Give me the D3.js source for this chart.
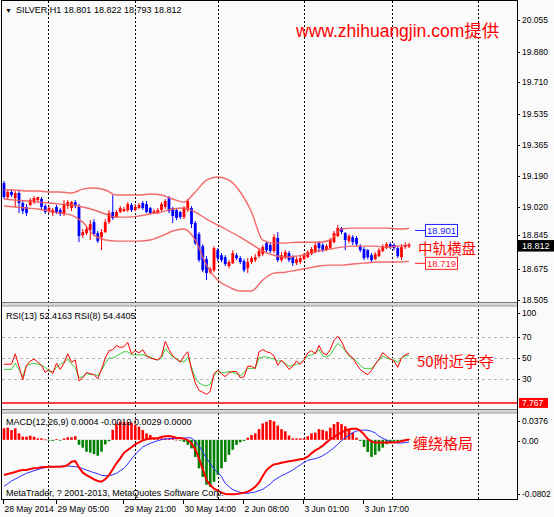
<!DOCTYPE html>
<html><head><meta charset="utf-8">
<script src="https://cdn.jsdelivr.net/npm/d3@7"></script>
<style>
html,body{margin:0;padding:0;background:#fafafa;}
svg{display:block;}
text{font-family:"Liberation Sans",Arial,sans-serif;}
</style></head><body>
<svg id="c" width="554" height="517"></svg>
<script>
// ---------- DATA ----------
const symbolHeader = "SILVER,H1  18.801 18.822 18.793 18.812";
const timeLabels = ["28 May 2014","29 May 05:00","29 May 21:00","30 May 14:00","2 Jun 08:00","3 Jun 01:00","3 Jun 17:00"];
const timeLabelBars = [0,14,32,48,64,80,96];
const priceTicks = [20.055,19.880,19.710,19.535,19.365,19.190,19.020,18.845,18.675,18.505];
const rsiTicks = [100,70,50,30];
const rsiLevels = [70,50,30];
const macdTicks = [0.0376,0.00,-0.0802];

const open = [
19.152,19.075,19.103,19.069,19.097,19.042,19.020,19.031,19.047,19.058,
19.064,19.025,18.997,18.986,19.020,19.003,18.981,19.025,19.014,19.047,
19.020,18.864,18.875,18.892,18.936,18.875,18.853,18.881,18.936,18.992,
18.964,18.992,18.997,19.003,19.031,19.003,19.014,19.042,19.036,19.014,
18.986,18.986,19.003,19.020,19.069,19.014,19.003,18.992,18.964,19.003,
19.014,18.931,18.870,18.803,18.731,18.659,18.670,18.781,18.753,18.742,
18.693,18.709,18.753,18.737,18.720,18.681,18.715,18.726,18.748,18.759,
18.820,18.809,18.776,18.848,18.726,18.737,18.765,18.742,18.709,18.715,
18.731,18.742,18.759,18.770,18.820,18.809,18.781,18.792,18.825,18.859,
18.903,18.875,18.831,18.853,18.848,18.803,18.787,18.781,18.753,18.731,
18.748,18.776,18.792,18.814,18.809,18.792,18.742,18.798,18.801];
const high = [
19.164,19.114,19.119,19.108,19.114,19.058,19.036,19.069,19.080,19.075,
19.075,19.036,19.025,19.014,19.031,19.014,19.058,19.058,19.053,19.058,
19.036,18.898,18.909,18.948,18.953,18.887,18.898,18.953,19.003,19.086,
19.003,19.025,19.020,19.047,19.042,19.036,19.042,19.053,19.053,19.020,
19.009,19.014,19.047,19.064,19.080,19.020,19.009,18.997,19.025,19.064,
19.025,18.942,18.881,18.814,18.748,18.687,18.803,18.792,18.765,18.753,
18.726,18.781,18.765,18.748,18.731,18.737,18.748,18.759,18.792,18.809,
18.831,18.820,18.870,18.881,18.770,18.781,18.776,18.753,18.742,18.748,
18.765,18.781,18.798,18.825,18.831,18.820,18.814,18.848,18.887,18.920,
18.909,18.881,18.870,18.864,18.859,18.814,18.798,18.787,18.765,18.770,
18.792,18.814,18.825,18.825,18.820,18.803,18.814,18.825,18.822];
const low = [
19.064,19.058,19.075,19.020,18.986,18.981,18.970,19.025,19.036,19.047,
19.003,18.981,18.986,18.970,18.981,18.970,18.970,19.009,18.997,19.014,
18.825,18.848,18.864,18.837,18.859,18.820,18.781,18.875,18.925,18.948,
18.959,18.986,18.992,18.992,18.992,18.997,19.009,19.003,18.986,18.981,
18.981,18.981,18.997,19.009,18.986,18.931,18.948,18.953,18.953,18.992,
18.903,18.809,18.715,18.659,18.615,18.648,18.659,18.720,18.715,18.693,
18.681,18.704,18.726,18.704,18.659,18.654,18.704,18.715,18.737,18.748,
18.770,18.765,18.765,18.715,18.715,18.731,18.715,18.693,18.698,18.704,
18.726,18.737,18.753,18.765,18.770,18.770,18.776,18.787,18.820,18.853,
18.870,18.781,18.820,18.809,18.803,18.770,18.726,18.731,18.715,18.726,
18.742,18.770,18.787,18.787,18.781,18.737,18.726,18.787,18.793];
const close = [
19.075,19.103,19.086,19.097,19.042,18.997,18.986,19.058,19.069,19.075,
19.020,18.992,19.014,19.003,18.992,18.981,19.036,19.047,19.047,19.025,
18.859,18.881,18.898,18.925,18.870,18.831,18.881,18.936,18.986,18.959,
18.992,19.014,19.009,19.036,19.003,19.020,19.031,19.014,18.992,18.986,
18.997,19.003,19.036,19.053,18.997,18.970,18.959,18.964,19.014,19.053,
18.925,18.820,18.726,18.670,18.654,18.676,18.792,18.737,18.726,18.704,
18.715,18.765,18.737,18.715,18.670,18.715,18.737,18.742,18.776,18.798,
18.781,18.776,18.853,18.726,18.753,18.770,18.726,18.709,18.731,18.737,
18.753,18.770,18.787,18.809,18.792,18.781,18.803,18.837,18.875,18.903,
18.881,18.837,18.859,18.825,18.814,18.781,18.737,18.742,18.726,18.759,
18.781,18.803,18.814,18.798,18.792,18.748,18.798,18.809,18.812];

// Bollinger bands, one value every 3 bars
const bbStep = 3;
const bbUpper = [19.114,19.114,19.108,19.108,19.103,19.103,19.097,19.119,19.125,19.114,19.086,19.086,19.086,19.092,19.086,19.064,19.047,19.103,19.169,19.186,19.169,19.103,18.992,18.837,18.820,18.820,18.825,18.825,18.825,18.837,18.898,18.903,18.903,18.903,18.903,18.898,18.901];
const bbMiddle = [19.064,19.058,19.053,19.047,19.042,19.036,19.031,19.020,19.003,18.981,18.964,18.964,18.970,18.981,18.992,19.009,19.014,18.992,18.953,18.920,18.887,18.853,18.814,18.776,18.753,18.742,18.748,18.759,18.776,18.787,18.798,18.803,18.803,18.803,18.798,18.803,18.810];
const bbLower = [19.025,19.020,19.014,19.009,18.997,18.986,18.975,18.936,18.864,18.837,18.831,18.831,18.831,18.837,18.859,18.887,18.898,18.837,18.698,18.615,18.577,18.555,18.555,18.615,18.654,18.659,18.670,18.681,18.693,18.698,18.698,18.704,18.709,18.715,18.715,18.715,18.719];

const rsi8 = [44,44,44,54,42,29,43,47,49,46, 43,36,39,35,45,39,45,54,46,48, 28,31,36,35,34,30,39,50,57,58, 62,60,61,65,54,57,55,58,52,50, 49,48,52,66,58,52,49,46,52,56, 39,26,19,17,15,18,35,38,35,32, 36,37,37,31,32,42,42,40,56,58, 56,55,52,43,48,44,39,42,47,44, 48,55,57,54,62,55,53,58,67,71, 66,58,53,50,44,39,36,34,38,44, 49,55,52,49,47,41,50,53,54.44];
const rsi13 = [39,39,39,45,39,32,43,44,45,44, 43,41,37,37,41,44,46,49,44,41, 31,32,35,34,34,33,38,45,50,50, 52,54,56,56,53,53,53,53,52,51, 49,48,50,59,55,51,49,47,46,51, 41,31,26,24,23,25,33,38,36,36, 37,36,35,33,36,40,40,40,50,51, 51,50,49,47,47,45,42,43,44,45, 48,52,53,55,58,52,51,53,59,64, 61,57,52,50,47,43,40,40,40,44, 48,52,50,49,48,46,50,52,52.42];
const rsiMarkLevel = 7.767;

const macdHist = [
0.0161,0.0170,0.0137,0.0161,0.0090,0.0044,0.0044,0.0058,0.0044,0.0021,
0.0021,0.0005,-0.0010,-0.0015,0.0010,-0.0010,0.0020,0.0035,0.0035,0.0050,
-0.0070,-0.0110,-0.0167,-0.0180,-0.0200,-0.0223,-0.0167,-0.0064,-0.0020,0.0140,
0.0230,0.0254,0.0254,0.0245,0.0240,0.0208,0.0184,0.0137,0.0090,0.0067,
0.0021,0.0007,0.0021,0.0021,0.0021,0.0021,0.0003,-0.0010,-0.0030,-0.0070,
-0.0120,-0.0240,-0.0400,-0.0520,-0.0630,-0.0660,-0.0590,-0.0490,-0.0400,-0.0310,
-0.0210,-0.0140,-0.0070,-0.0035,-0.0015,0.0030,0.0067,0.0090,0.0150,0.0230,
0.0254,0.0278,0.0260,0.0200,0.0150,0.0120,0.0060,0.0020,0.0020,0.0020,
0.0020,0.0050,0.0090,0.0100,0.0150,0.0140,0.0120,0.0170,0.0220,0.0250,
0.0220,0.0190,0.0150,0.0100,0.0030,-0.0015,-0.0100,-0.0170,-0.0240,-0.0210,
-0.0160,-0.0110,-0.0060,-0.0035,-0.0025,-0.0025,-0.0015,0.0005,0.0008];
const macdMain = [
-0.0494,-0.0480,-0.0466,-0.0452,-0.0433,-0.0424,-0.0424,-0.0410,-0.0400,-0.0396,
-0.0386,-0.0381,-0.0377,-0.0377,-0.0377,-0.0377,-0.0372,-0.0353,-0.0307,-0.0297,
-0.0386,-0.0461,-0.0494,-0.0522,-0.0554,-0.0578,-0.0587,-0.0554,-0.0494,-0.0414,
-0.0330,-0.0260,-0.0180,-0.0143,-0.0105,-0.0064,-0.0036,-0.0007,0.0007,0.0021,
0.0021,0.0021,0.0039,0.0049,0.0053,0.0044,0.0030,0.0025,0.0016,-0.0003,
-0.0050,-0.0134,-0.0260,-0.0410,-0.0564,-0.0634,-0.0685,-0.0713,-0.0741,-0.0760,
-0.0765,-0.0765,-0.0760,-0.0751,-0.0741,-0.0727,-0.0699,-0.0657,-0.0601,-0.0508,
-0.0424,-0.0377,-0.0344,-0.0335,-0.0321,-0.0311,-0.0302,-0.0293,-0.0283,-0.0274,
-0.0265,-0.0236,-0.0190,-0.0148,-0.0120,-0.0082,-0.0036,0.0007,0.0039,0.0072,
0.0105,0.0128,0.0147,0.0156,0.0156,0.0128,0.0077,0.0011,-0.0026,-0.0036,
-0.0036,-0.0036,-0.0036,-0.0036,-0.0036,-0.0031,-0.0021,-0.0007,0.0004];
const macdSignal = [
-0.0653,-0.0615,-0.0578,-0.0550,-0.0522,-0.0494,-0.0470,-0.0452,-0.0433,-0.0419,
-0.0400,-0.0391,-0.0381,-0.0377,-0.0372,-0.0372,-0.0367,-0.0367,-0.0372,-0.0377,
-0.0386,-0.0405,-0.0424,-0.0442,-0.0461,-0.0475,-0.0498,-0.0503,-0.0503,-0.0489,
-0.0470,-0.0433,-0.0400,-0.0339,-0.0269,-0.0204,-0.0152,-0.0101,-0.0073,-0.0050,
-0.0031,-0.0012,0.0002,0.0011,0.0016,0.0021,0.0021,0.0021,0.0021,0.0030,
0.0025,-0.0026,-0.0082,-0.0166,-0.0260,-0.0335,-0.0410,-0.0456,-0.0517,-0.0611,
-0.0657,-0.0699,-0.0718,-0.0737,-0.0746,-0.0751,-0.0741,-0.0732,-0.0713,-0.0695,
-0.0657,-0.0620,-0.0568,-0.0536,-0.0503,-0.0480,-0.0452,-0.0424,-0.0386,-0.0353,
-0.0316,-0.0288,-0.0274,-0.0265,-0.0246,-0.0223,-0.0190,-0.0152,-0.0110,-0.0064,
-0.0012,0.0030,0.0067,0.0100,0.0123,0.0133,0.0137,0.0133,0.0119,0.0096,
0.0049,0.0021,-0.0003,-0.0026,-0.0036,-0.0045,-0.0045,-0.0040,-0.0030];

const bandMarks = [{v:18.901,color:"#2020ff"},{v:18.719,color:"#ff2020"}];
const lastPrice = 18.812;

// ---------- LAYOUT ----------
const W=554, H=517, L=2, R=517;
const P = {main:[2,302.5], rsi:[306,410], macd:[413,499.5]};
const N = close.length;
const RED="#ff0000", BLUE="#0000ff";
const x = d3.scaleLinear().domain([0,108]).range([4,409]);
const yM = d3.scaleLinear().domain([18.505,20.055]).range([300,20]);
const yR = d3.scaleLinear().domain([0,100]).range([410,306]);
const yD = d3.scaleLinear().domain([-0.0802,0.0376]).range([497,413]);
const gridBars = [11.7,34.9,57.1,80,103.5,126.4];

const svg = d3.select("#c");
svg.append("rect").attr("width",W).attr("height",H).attr("fill","#fafafa");
const defs = svg.append("defs");
Object.entries(P).forEach(([k,[t,b]])=>{
  defs.append("clipPath").attr("id","clip-"+k).append("rect")
    .attr("x",L).attr("y",t).attr("width",R-L).attr("height",b-t);
});

// vertical dashed grid
svg.append("g").selectAll("line").data(gridBars).join("line")
  .attr("x1",d=>Math.round(x(d))+0.5).attr("x2",d=>Math.round(x(d))+0.5)
  .attr("y1",1).attr("y2",499.5)
  .attr("stroke","#000").attr("stroke-width",1).attr("stroke-dasharray","2,2");

// ---------- MAIN PANEL ----------
const gM = svg.append("g").attr("clip-path","url(#clip-main)");
const bars = d3.range(N).map(i=>({i,o:open[i],h:high[i],l:low[i],c:close[i]}));
const col = d=> d.c>=d.o ? RED : BLUE;
gM.selectAll("line.wick").data(bars).join("line")
  .attr("x1",d=>x(d.i)).attr("x2",d=>x(d.i))
  .attr("y1",d=>yM(d.h)).attr("y2",d=>yM(d.l))
  .attr("stroke",col).attr("stroke-width",1);
gM.selectAll("rect.body").data(bars).join("rect")
  .attr("x",d=>x(d.i)-1.4).attr("width",2.8)
  .attr("y",d=>yM(Math.max(d.o,d.c)))
  .attr("height",d=>Math.max(1,Math.abs(yM(d.o)-yM(d.c))))
  .attr("fill",col);

const bbLine = d3.line().x((d,k)=>x(k*bbStep)).y(d=>yM(d)).curve(d3.curveMonotoneX);
[bbUpper,bbMiddle,bbLower].forEach(arr=>{
  gM.append("path").attr("d",bbLine(arr)).attr("fill","none")
    .attr("stroke","#f25a5a").attr("stroke-width",1.4).attr("opacity",0.9);
});

// band value marks
const xe = x(N-1);
bandMarks.forEach(m=>{
  const y = yM(m.v) + 2;
  svg.append("line").attr("x1",xe+6).attr("x2",xe+16).attr("y1",y).attr("y2",y)
    .attr("stroke",m.color).attr("stroke-width",1);
  svg.append("rect").attr("x",xe+16.5).attr("y",y-6).attr("width",32).attr("height",12)
    .attr("fill","#fff").attr("stroke",m.color).attr("stroke-width",1);
  svg.append("text").attr("x",xe+32.5).attr("y",y+3.5).attr("text-anchor","middle")
    .attr("font-size",9.5).attr("fill",m.color).text(m.v.toFixed(3));
});

// header + annotations
svg.append("text").attr("x",5).attr("y",13).attr("font-size",7).attr("font-family","DejaVu Sans").text("▼");
svg.append("text").attr("x",16).attr("y",13).attr("font-size",9).text(symbolHeader);
svg.append("text").attr("x",296).attr("y",37).attr("font-size",17.5).attr("fill",RED)
  .style("font-family","'Liberation Sans','Noto Sans CJK SC',sans-serif").text("www.zhihuangjin.com提供");
const cjk = "'Noto Sans CJK SC',sans-serif";
svg.append("text").attr("x",418).attr("y",254).attr("font-size",14.5).attr("fill",RED).style("font-family",cjk).text("中轨横盘");

// ---------- RSI PANEL ----------
const gR = svg.append("g").attr("clip-path","url(#clip-rsi)");
gR.selectAll("line.lvl").data(rsiLevels).join("line")
  .attr("x1",L).attr("x2",R).attr("y1",d=>Math.round(yR(d))+0.5).attr("y2",d=>Math.round(yR(d))+0.5)
  .attr("stroke","#b8b8b8").attr("stroke-dasharray","3,3");
gR.append("line").attr("x1",L).attr("x2",R).attr("y1",yR(rsiMarkLevel)+1).attr("y2",yR(rsiMarkLevel)+1)
  .attr("stroke",RED).attr("stroke-width",1.5);
const rLine = d3.line().x((d,i)=>x(i)).y(d=>yR(d));
gR.append("path").attr("d",rLine(rsi13)).attr("fill","none").attr("stroke","#3ccc3c").attr("stroke-width",1);
gR.append("path").attr("d",rLine(rsi8)).attr("fill","none").attr("stroke",RED).attr("stroke-width",1);
svg.append("text").attr("x",6).attr("y",319).attr("font-size",9).text("RSI(13) 52.4163  RSI(8) 54.4405");
svg.append("text").attr("x",417).attr("y",367).attr("font-size",15).attr("fill",RED).style("font-family",cjk).text("50附近争夺");

// ---------- MACD PANEL ----------
const gD = svg.append("g").attr("clip-path","url(#clip-macd)");
gD.selectAll("rect.h").data(macdHist).join("rect")
  .attr("x",(d,i)=>x(i)-1.3).attr("width",2.6)
  .attr("y",d=>Math.min(yD(d),yD(0))).attr("height",d=>Math.max(0.8,Math.abs(yD(d)-yD(0))))
  .attr("fill",d=>d>=0?RED:"#008000");
const dLine = d3.line().x((d,i)=>x(i)).y(d=>yD(d));
gD.append("path").attr("d",dLine(macdSignal)).attr("fill","none").attr("stroke","#2a2aff").attr("stroke-width",1);
gD.append("path").attr("d",dLine(macdMain)).attr("fill","none").attr("stroke",RED).attr("stroke-width",2);
svg.append("text").attr("x",6).attr("y",425).attr("font-size",9).text("MACD(12,26,9) 0.0004 -0.0019 0.0029 0.0000");
svg.append("text").attr("x",6).attr("y",496).attr("font-size",9).text("MetaTrader, ? 2001-2013, MetaQuotes Software Corp.");
svg.append("text").attr("x",413).attr("y",449).attr("font-size",15).attr("fill",RED).style("font-family",cjk).text("缠绕格局");

// ---------- SEPARATORS & FRAME ----------
[[302.5,306],[409.5,413]].forEach(([a,b])=>{
  svg.append("rect").attr("x",L).attr("y",a).attr("width",R-L).attr("height",b-a).attr("fill","#d8d8d8");
  svg.append("line").attr("x1",L).attr("x2",R).attr("y1",a).attr("y2",a).attr("stroke","#777");
  svg.append("line").attr("x1",L).attr("x2",R).attr("y1",b).attr("y2",b).attr("stroke","#999");
});
svg.append("line").attr("x1",L-0.5).attr("x2",L-0.5).attr("y1",0).attr("y2",500).attr("stroke","#000");
svg.append("line").attr("x1",R+0.5).attr("x2",R+0.5).attr("y1",0).attr("y2",500).attr("stroke","#000");
svg.append("line").attr("x1",L-1).attr("x2",R+1).attr("y1",499.5).attr("y2",499.5).attr("stroke","#000");
svg.append("line").attr("x1",L-1).attr("x2",R+1).attr("y1",0.5).attr("y2",0.5).attr("stroke","#000");

// ---------- AXES ----------
const axG = svg.append("g").attr("font-size",8.5);
function axisLabels(vals, yfn, fmt, off){
  vals.forEach((v,k)=>{
    const y = yfn(v) + (off?off[k]:0);
    axG.append("line").attr("x1",R).attr("x2",R+3).attr("y1",Math.round(y)+0.5).attr("y2",Math.round(y)+0.5).attr("stroke","#000");
    axG.append("text").attr("x",R+5).attr("y",y+3).text(fmt(v));
  });
}
// the 18.845 label sits just above the last-price box
axisLabels(priceTicks, yM, d=>d.toFixed(3), [0,0,0,0,0,0,0,-3.5,0,0]);
axisLabels(rsiTicks, yR, d=>String(d), [7,0,0,0]);
axisLabels(macdTicks, yD, d=> d===0 ? "0.00" : String(d), [8,1,-3]);

// last price box
const yl = yM(lastPrice) + 1;
svg.append("rect").attr("x",R+1).attr("y",yl-5.5).attr("width",36).attr("height",11.5).attr("fill","#000");
svg.append("text").attr("x",R+5).attr("y",yl+3.5).attr("font-size",9).attr("fill","#fff").text(lastPrice.toFixed(3));
// rsi level box
const yr = yR(rsiMarkLevel)+1;
svg.append("rect").attr("x",R+2).attr("y",yr-5).attr("width",29).attr("height",10).attr("fill",RED);
svg.append("text").attr("x",R+5).attr("y",yr+3.5).attr("font-size",8.5).attr("fill","#fff").text(rsiMarkLevel.toFixed(3));

// time axis
const tG = svg.append("g").attr("font-size",8.5);
timeLabelBars.forEach((b,k)=>{
  const xx = Math.round(x(b)) - 0.5;
  tG.append("line").attr("x1",xx).attr("x2",xx).attr("y1",500).attr("y2",504).attr("stroke","#000");
  tG.append("text").attr("x",xx+1).attr("y",512).text(timeLabels[k]);
});
</script>
</body></html>
